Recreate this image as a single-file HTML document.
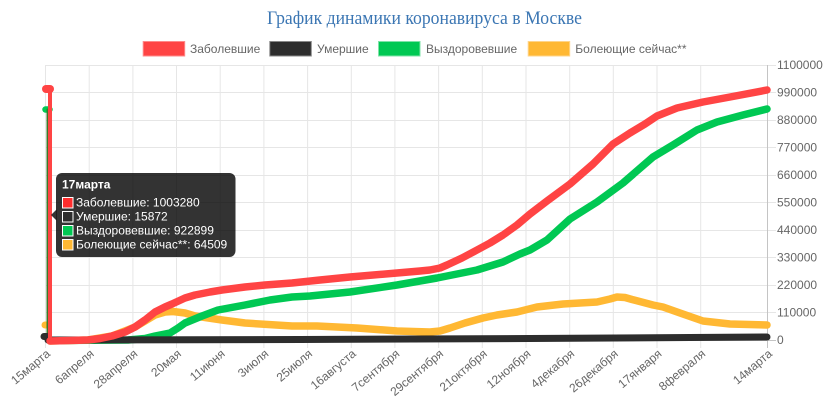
<!DOCTYPE html>
<html>
<head>
<meta charset="utf-8">
<style>
html,body{margin:0;padding:0;background:#fff;}
svg{display:block;}
text{font-family:"Liberation Sans","Noto Sans CJK SC",sans-serif;}
</style>
</head>
<body>
<svg width="836" height="410" viewBox="0 0 836 410" xmlns="http://www.w3.org/2000/svg">
<rect width="836" height="410" fill="#fff"/>
<!-- Title -->
<text x="424.5" y="24" text-anchor="middle" font-family="'Liberation Serif',serif" style="font-family:'Liberation Serif',serif" font-size="19" fill="#3b76b3" textLength="315" lengthAdjust="spacingAndGlyphs">График динамики коронавируса в Москве</text>

<!-- Legend -->
<g font-size="12" fill="#666">
<rect x="143.2" y="41.5" width="41.5" height="14.5" fill="#ff4444" stroke="#ff8a8a" stroke-width="1"/>
<text x="190" y="53">Заболевшие</text>
<rect x="269.8" y="41.5" width="41.5" height="14.5" fill="#2d2d2d" stroke="#888" stroke-width="1"/>
<text x="317" y="53">Умершие</text>
<rect x="378.5" y="41.5" width="41.5" height="14.5" fill="#00c853" stroke="#7fe3a8" stroke-width="1"/>
<text x="426" y="53">Выздоровевшие</text>
<rect x="528.2" y="41.5" width="41.5" height="14.5" fill="#ffb833" stroke="#ffd58a" stroke-width="1"/>
<text x="575.3" y="53">Болеющие сейчас**</text>
</g>

<!-- Grid -->
<g stroke="#e6e6e6" stroke-width="1">
<line x1="45" y1="65.5" x2="776" y2="65.5"/>
<line x1="45" y1="92.5" x2="776" y2="92.5"/>
<line x1="45" y1="120.5" x2="776" y2="120.5"/>
<line x1="45" y1="147.5" x2="776" y2="147.5"/>
<line x1="45" y1="175.5" x2="776" y2="175.5"/>
<line x1="45" y1="202.5" x2="776" y2="202.5"/>
<line x1="45" y1="230.5" x2="776" y2="230.5"/>
<line x1="45" y1="257.5" x2="776" y2="257.5"/>
<line x1="45" y1="285.5" x2="776" y2="285.5"/>
<line x1="45" y1="312.5" x2="776" y2="312.5"/>
<line x1="45.5" y1="65" x2="45.5" y2="348"/>
<line x1="89.2" y1="65" x2="89.2" y2="348"/>
<line x1="132.9" y1="65" x2="132.9" y2="348"/>
<line x1="176.5" y1="65" x2="176.5" y2="348"/>
<line x1="220.2" y1="65" x2="220.2" y2="348"/>
<line x1="263.9" y1="65" x2="263.9" y2="348"/>
<line x1="307.6" y1="65" x2="307.6" y2="348"/>
<line x1="351.3" y1="65" x2="351.3" y2="348"/>
<line x1="394.9" y1="65" x2="394.9" y2="348"/>
<line x1="438.6" y1="65" x2="438.6" y2="348"/>
<line x1="482.3" y1="65" x2="482.3" y2="348"/>
<line x1="526" y1="65" x2="526" y2="348"/>
<line x1="569.7" y1="65" x2="569.7" y2="348"/>
<line x1="613.3" y1="65" x2="613.3" y2="348"/>
<line x1="657" y1="65" x2="657" y2="348"/>
<line x1="700.7" y1="65" x2="700.7" y2="348"/>
</g>
<g stroke="#c4c4c4" stroke-width="1">
<line x1="767.5" y1="65" x2="767.5" y2="348"/>
<line x1="45" y1="340.5" x2="776" y2="340.5"/>
</g>

<!-- Y axis labels -->
<g font-size="12" fill="#666">
<text x="777" y="69">1100000</text>
<text x="777" y="96.5">990000</text>
<text x="777" y="124">880000</text>
<text x="777" y="151.5">770000</text>
<text x="777" y="179">660000</text>
<text x="777" y="206.5">550000</text>
<text x="777" y="234">440000</text>
<text x="777" y="261.5">330000</text>
<text x="777" y="289">220000</text>
<text x="777" y="316.5">110000</text>
<text x="777" y="344">0</text>
</g>

<!-- X axis labels -->
<g font-size="12" fill="#666" text-anchor="end">
<text transform="translate(51,355) rotate(-40)">15марта</text>
<text transform="translate(94.7,355) rotate(-40)">6апреля</text>
<text transform="translate(138.4,355) rotate(-40)">28апреля</text>
<text transform="translate(182,355) rotate(-40)">20мая</text>
<text transform="translate(225.7,355) rotate(-40)">11июня</text>
<text transform="translate(269.4,355) rotate(-40)">3июля</text>
<text transform="translate(313.1,355) rotate(-40)">25июля</text>
<text transform="translate(356.8,355) rotate(-40)">16августа</text>
<text transform="translate(400.4,355) rotate(-40)">7сентября</text>
<text transform="translate(444.1,355) rotate(-40)">29сентября</text>
<text transform="translate(487.8,355) rotate(-40)">21октября</text>
<text transform="translate(531.5,355) rotate(-40)">12ноября</text>
<text transform="translate(575.2,355) rotate(-40)">4декабря</text>
<text transform="translate(618.8,355) rotate(-40)">26декабря</text>
<text transform="translate(662.5,355) rotate(-40)">17января</text>
<text transform="translate(706.2,355) rotate(-40)">8февраля</text>
<text transform="translate(773,355) rotate(-40)">14марта</text>
</g>

<!-- Series -->
<g fill="none" stroke-linejoin="round" stroke-linecap="round">
<!-- orange -->
<line x1="45" y1="325" x2="48" y2="325" stroke="#ffb833" stroke-width="7"/>
<line x1="48" y1="325" x2="49" y2="340" stroke="#ffb833" stroke-width="3"/>
<polyline stroke="#ffb833" stroke-width="7.5" points="50,341 88,340 112,336 135,327 145,321 155,315 165,312 173,311.5 185,313 195,316 222,320 245,323 292,326 317,326 357,328 397,331 430,332 440,331 450,328 465,323 483,318 497,315 517,312 537,307 563,304 597,302 610,299 617,297 625,297.5 632,299.5 653,305 663,307 680,313 703,321 730,324 767,325"/>
<!-- green -->
<line x1="45.5" y1="109.5" x2="49.5" y2="109.5" stroke="#00c853" stroke-width="6.5"/>
<line x1="47.5" y1="109.5" x2="47.5" y2="340" stroke="#3a7a2a" stroke-width="2"/>
<polyline stroke="#00c853" stroke-width="7.5" points="50,340.5 128,340 145,338.5 155,336 170,333 178,328 185,323 202,316 218,310 245,305 270,300 292,297 310,296 350,292 397,285 437,278 477,270 503,262 520,254 530,250 547,240 570,219 597,202 623,183 653,157 673,145 697,130 717,122 743,115 767,109"/>
<!-- black -->
<line x1="44" y1="336.5" x2="48" y2="336.5" stroke="#2d2d2d" stroke-width="7"/>
<polyline stroke="#2d2d2d" stroke-width="7" points="48,340 300,339.5 530,338.5 767,337"/>
<!-- red -->
<line x1="46" y1="89" x2="50" y2="89" stroke="#ff4444" stroke-width="8"/>
<line x1="50" y1="89" x2="50" y2="341" stroke="#ff4444" stroke-width="4"/>
<polyline stroke="#ff4444" stroke-width="7.5" points="50,341 70,340.5 88,340 100,338.5 112,336 125,332 135,327 145,320 155,312 165,307 172,304 185,298 195,295 210,292 222,290 245,287 265,285 292,283 320,280 350,277 397,273 420,271 430,270 440,268 447,265 462,258 477,250 490,243 503,235 517,225 530,214 547,201 570,184 593,164 613,144 630,133 645,124 657,116 677,108 703,102 730,97 767,90"/>
</g>

<!-- Tooltip -->
<g>
<rect x="56" y="173" width="179.5" height="84" rx="6" ry="6" fill="rgba(0,0,0,0.8)"/>
<polygon points="51,215 56.5,209.5 56.5,220.5" fill="rgba(0,0,0,0.8)"/>
<text x="62" y="188.5" font-size="12" font-weight="bold" fill="#fff">17марта</text>
<rect x="62.5" y="197.5" width="10.5" height="10.5" fill="#ff2e2e" stroke="#fff" stroke-width="1"/>
<rect x="62.5" y="211.5" width="10.5" height="10.5" fill="#2d2d2d" stroke="#fff" stroke-width="1"/>
<rect x="62.5" y="225.5" width="10.5" height="10.5" fill="#00c853" stroke="#fff" stroke-width="1"/>
<rect x="62.5" y="239.5" width="10.5" height="10.5" fill="#ffb833" stroke="#fff" stroke-width="1"/>
<g font-size="12" fill="#fff">
<text x="76" y="206.5">Заболевшие: 1003280</text>
<text x="76" y="220.5">Умершие: 15872</text>
<text x="76" y="234.5">Выздоровевшие: 922899</text>
<text x="76" y="248.5">Болеющие сейчас**: 64509</text>
</g>
</g>
</svg>
</body>
</html>
